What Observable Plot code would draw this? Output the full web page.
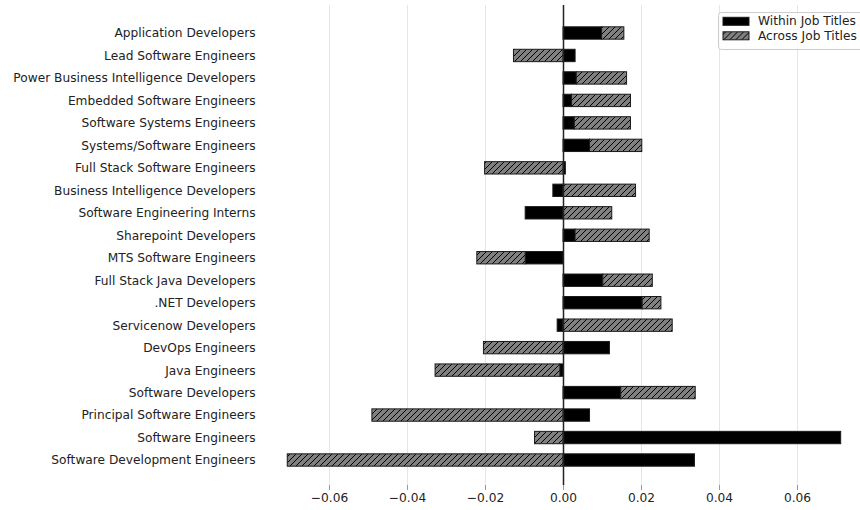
<!DOCTYPE html>
<html><head><meta charset="utf-8">
<script src="https://cdn.jsdelivr.net/npm/d3@7"></script>
<script src="https://cdn.jsdelivr.net/npm/@observablehq/plot@0.6"></script>
<style>
body{margin:0;background:#fff;overflow:hidden}
#chart{position:relative;width:860px;height:510px}
</style>
</head><body><div id="chart"></div>
<script>
const titles = [
  "Application Developers",
  "Lead Software Engineers",
  "Power Business Intelligence Developers",
  "Embedded Software Engineers",
  "Software Systems Engineers",
  "Systems/Software Engineers",
  "Full Stack Software Engineers",
  "Business Intelligence Developers",
  "Software Engineering Interns",
  "Sharepoint Developers",
  "MTS Software Engineers",
  "Full Stack Java Developers",
  ".NET Developers",
  "Servicenow Developers",
  "DevOps Engineers",
  "Java Engineers",
  "Software Developers",
  "Principal Software Engineers",
  "Software Engineers",
  "Software Development Engineers"
];
const within = [0.0099, 0.0031, 0.0034, 0.0022, 0.0029, 0.0068, 0.0006, -0.0026, -0.0097, 0.0031,
                -0.0097, 0.0102, 0.0203, -0.0015, 0.0119, -0.0008, 0.0148, 0.0068, 0.0712, 0.0337];
const across = [0.0057, -0.0127, 0.0129, 0.0151, 0.0144, 0.0134, -0.0201, 0.0186, 0.0125, 0.0190,
                -0.0124, 0.0127, 0.0048, 0.0280, -0.0204, -0.0320, 0.0191, -0.0490, -0.0073, -0.0707];
const seriesNames = ["Within Job Titles", "Across Job Titles"];
const xTicks = [-0.06, -0.04, -0.02, 0, 0.02, 0.04, 0.06];

const rows = [];
titles.forEach((t, i) => {
  rows.push({title: t, series: seriesNames[0], value: within[i]});
  rows.push({title: t, series: seriesNames[1], value: across[i]});
});
const fills = {[seriesNames[0]]: "#000000", [seriesNames[1]]: "url(#hatch)"};

const chart = Plot.plot({
  width: 860,
  height: 510,
  marginLeft: 263,
  marginRight: 0,
  marginTop: 5,
  marginBottom: 25,
  style: {fontFamily: "DejaVu Sans", fontSize: "12.2px", background: "#fff", color: "#222"},
  x: {domain: [-0.07692, 0.07615]},
  y: {domain: titles, padding: 0.45, round: false, insetTop: 11.7, insetBottom: 8.7},
  color: {type: "identity"},
  marks: [
    Plot.gridX(xTicks, {stroke: "#e6e6e6", strokeOpacity: 1, strokeWidth: 1}),
    Plot.barX(rows, Plot.stackX({
      x: "value", y: "title",
      fill: d => fills[d.series],
      stroke: "#1a1a1a", strokeWidth: 1
    })),
    Plot.ruleX([0], {stroke: "#222", strokeWidth: 1.5}),
    Plot.axisX(xTicks, {tickSize: 5, tickPadding: 3, tickFormat: d3.format(".2f"), stroke: "#999", label: null}),
    Plot.axisY({tickSize: 0, tickPadding: 8, label: null})
  ]
});

document.getElementById("chart").appendChild(chart);

const svg = d3.select(chart);
const defs = svg.insert("defs", ":first-child");
const pat = defs.append("pattern").attr("id", "hatch")
  .attr("patternUnits", "userSpaceOnUse").attr("width", 6).attr("height", 6);
pat.append("rect").attr("width", 6).attr("height", 6).attr("fill", "#808080");
pat.append("path").attr("d", "M-1,1 L1,-1 M0,6 L6,0 M5,7 L7,5")
  .attr("stroke", "#000").attr("stroke-width", 1);

// legend
const lg = svg.append("g").attr("transform", "translate(718.5,12.5)");
lg.append("rect").attr("width", 145).attr("height", 37).attr("rx", 3)
  .attr("fill", "#fff").attr("fill-opacity", 0.8).attr("stroke", "#cccccc");
seriesNames.forEach((name, i) => {
  const g = lg.append("g").attr("transform", `translate(0,${i * 14.5})`);
  g.append("rect").attr("x", 4.5).attr("y", 4.8).attr("width", 26).attr("height", 8)
    .attr("fill", fills[name]).attr("stroke", "#1a1a1a").attr("stroke-width", 1);
  g.append("text").attr("x", 39.5).attr("y", 8.8).attr("dominant-baseline", "central")
    .attr("text-anchor", "start")
    .attr("fill", "#222").attr("font-family", "DejaVu Sans").attr("font-size", "12.2px").text(name);
});
</script>
</body></html>
